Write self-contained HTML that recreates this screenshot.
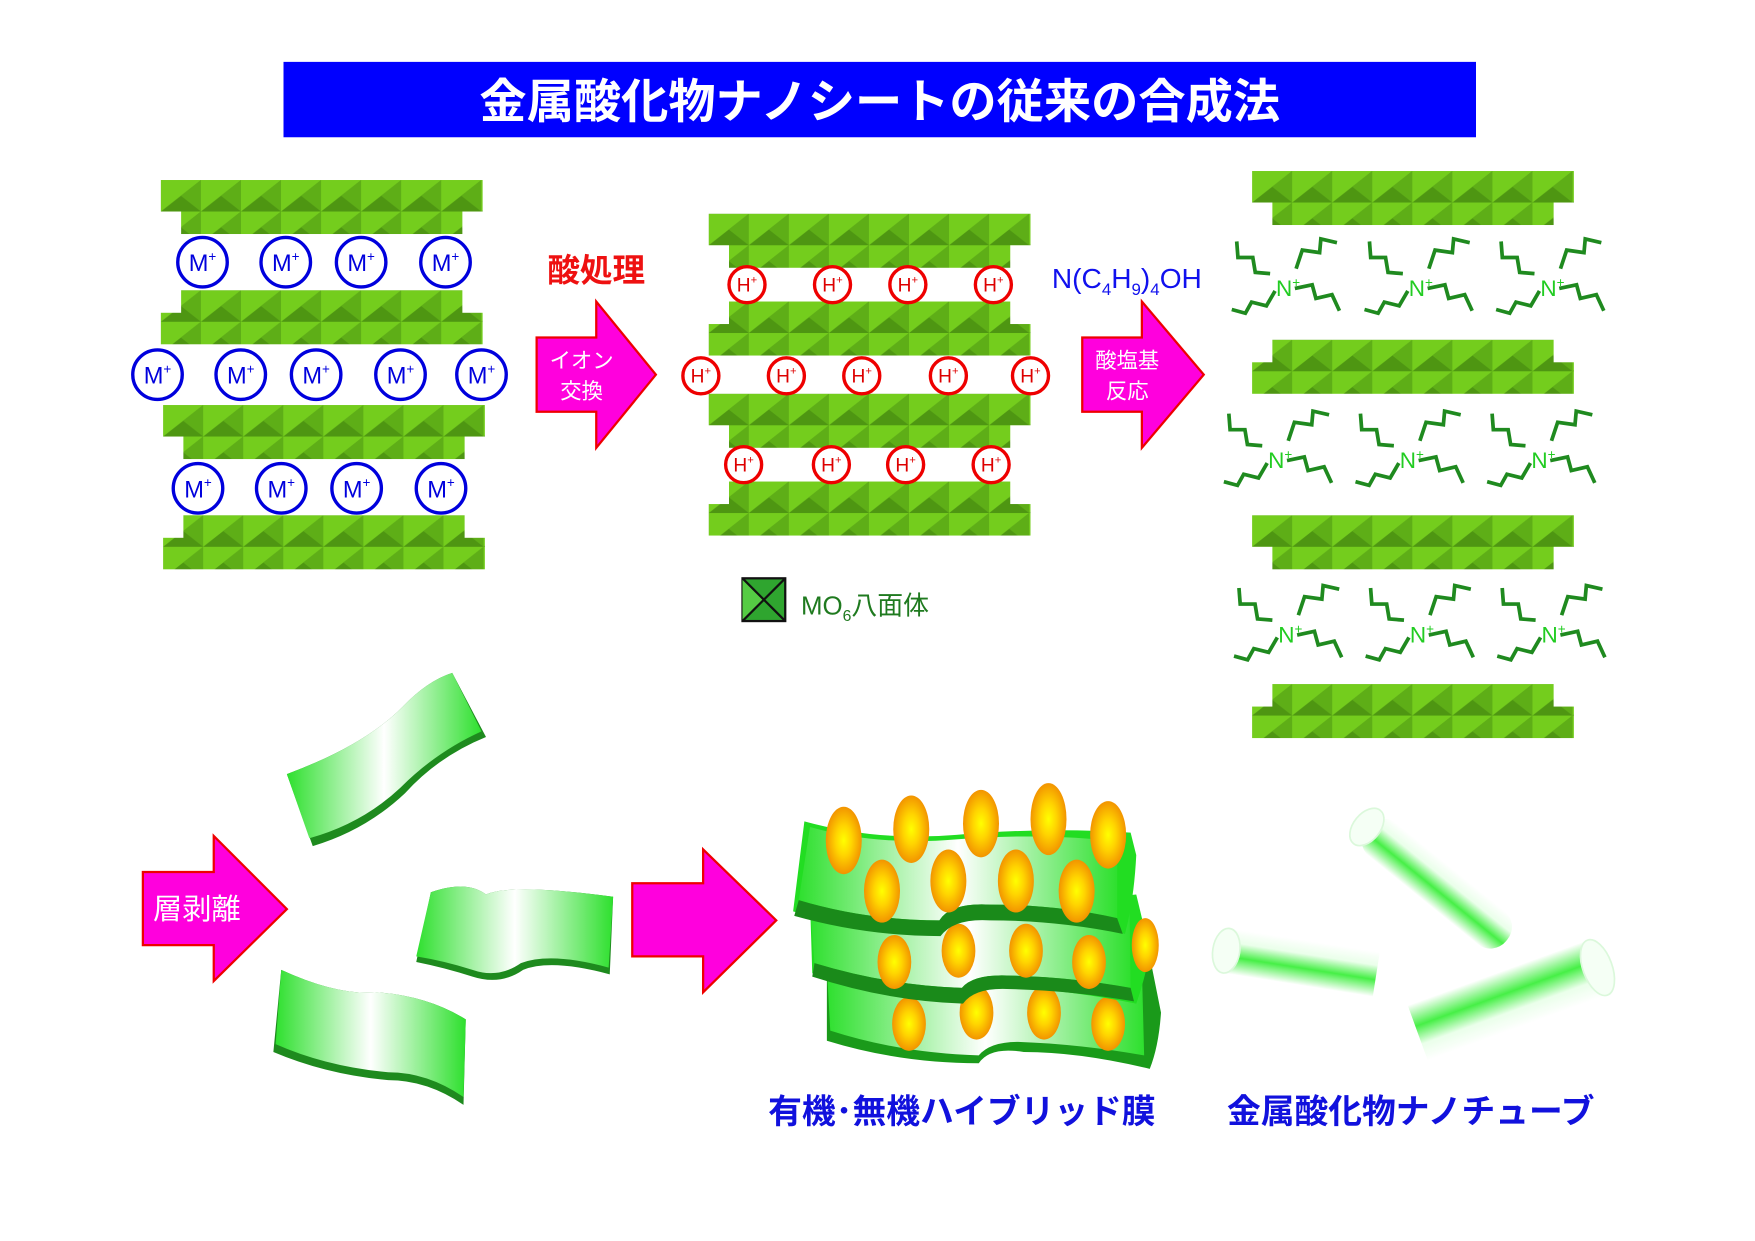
<!DOCTYPE html>
<html><head><meta charset="utf-8"><style>
html,body{margin:0;padding:0;background:#fff;}
svg{display:block;}
text{font-family:"Liberation Sans","Noto Sans CJK JP",sans-serif;}
</style></head><body>
<svg width="1755" height="1241" viewBox="0 0 1560 1103" preserveAspectRatio="none" xmlns="http://www.w3.org/2000/svg">
<defs>
<pattern id="tri" width="35.6" height="28" patternUnits="userSpaceOnUse">
<rect width="35.6" height="28" fill="#74cd1d"/>
<polygon points="0,28 35.6,0 35.6,28" fill="#4e9612"/>
<polygon points="17.8,14 35.6,0 35.6,28" fill="#5eae17"/>
</pattern>
<symbol id="LA" overflow="visible">
<rect x="0" y="0" width="286" height="28" fill="url(#tri)"/>
<rect x="18" y="20" width="250" height="28" fill="url(#tri)"/>
</symbol>
<symbol id="LB" overflow="visible">
<rect x="18" y="0" width="250" height="28" fill="url(#tri)"/>
<rect x="0" y="20" width="286" height="28" fill="url(#tri)"/>
</symbol>
<g id="amm" fill="none" stroke="#1f8a1f" stroke-width="3" transform="scale(1.1)">
<polyline points="-10,-8 -22,-9 -24,-21 -36,-21 -37,-34"/>
<polyline points="11,-12 16,-27 30,-25 31,-36 44,-33"/>
<polyline points="-6,6 -13,18 -25,15 -30,24 -41,21"/>
<polyline points="10,4 24,1 27,12 40,9 46,22"/>
</g>
<linearGradient id="sh" x1="0" x2="1" y1="0" y2="0">
<stop offset="0" stop-color="#2ee02e"/><stop offset="0.5" stop-color="#ffffff"/><stop offset="1" stop-color="#2ee02e"/>
</linearGradient>
<radialGradient id="org" cx="0.5" cy="0.5" r="0.5">
<stop offset="0" stop-color="#ffff00"/><stop offset="0.45" stop-color="#ffd400"/><stop offset="1" stop-color="#f29400"/>
</radialGradient>
<linearGradient id="tb" x1="0" x2="0" y1="0" y2="1">
<stop offset="0" stop-color="#ffffff"/><stop offset="0.3" stop-color="#e8ffe8"/><stop offset="0.62" stop-color="#33ee33"/><stop offset="1" stop-color="#ffffff"/>
</linearGradient>
</defs>

<rect x="252" y="55" width="1060" height="67" fill="#0000ff"/>
<text x="782" y="105" font-size="42" font-weight="bold" fill="#fff" text-anchor="middle">金属酸化物ナノシートの従来の合成法</text>

<use href="#LA" x="143" y="160"/>
<use href="#LB" x="143" y="258"/>
<use href="#LA" x="145" y="360"/>
<use href="#LB" x="145" y="458"/>
<g fill="#fff" stroke="#0000dd" stroke-width="3">
<circle cx="180" cy="233" r="22"/><circle cx="254" cy="233" r="22"/><circle cx="321" cy="233" r="22"/><circle cx="396" cy="233" r="22"/>
<circle cx="140" cy="333" r="22"/><circle cx="214" cy="333" r="22"/><circle cx="281" cy="333" r="22"/><circle cx="356" cy="333" r="22"/><circle cx="428" cy="333" r="22"/>
<circle cx="176" cy="434" r="22"/><circle cx="250" cy="434" r="22"/><circle cx="317" cy="434" r="22"/><circle cx="392" cy="434" r="22"/>
</g>
<g fill="#0000dd" font-size="21" text-anchor="middle">
<text x="180" y="241">M<tspan font-size="12" dy="-9">+</tspan></text><text x="254" y="241">M<tspan font-size="12" dy="-9">+</tspan></text><text x="321" y="241">M<tspan font-size="12" dy="-9">+</tspan></text><text x="396" y="241">M<tspan font-size="12" dy="-9">+</tspan></text>
<text x="140" y="341">M<tspan font-size="12" dy="-9">+</tspan></text><text x="214" y="341">M<tspan font-size="12" dy="-9">+</tspan></text><text x="281" y="341">M<tspan font-size="12" dy="-9">+</tspan></text><text x="356" y="341">M<tspan font-size="12" dy="-9">+</tspan></text><text x="428" y="341">M<tspan font-size="12" dy="-9">+</tspan></text>
<text x="176" y="442">M<tspan font-size="12" dy="-9">+</tspan></text><text x="250" y="442">M<tspan font-size="12" dy="-9">+</tspan></text><text x="317" y="442">M<tspan font-size="12" dy="-9">+</tspan></text><text x="392" y="442">M<tspan font-size="12" dy="-9">+</tspan></text>
</g>

<text x="530" y="250" font-size="29" fill="#ee1111" text-anchor="middle" font-weight="bold">酸処理</text>
<polygon points="477,300 530,300 530,268 583,333 530,398 530,366 477,366" fill="#ff00dd" stroke="#ee0000" stroke-width="2"/>
<text x="517" y="327" font-size="19" fill="#fff" text-anchor="middle">イオン</text>
<text x="517" y="354" font-size="19" fill="#fff" text-anchor="middle">交換</text>

<use href="#LA" x="630" y="190"/>
<use href="#LB" x="630" y="268"/>
<use href="#LA" x="630" y="350"/>
<use href="#LB" x="630" y="428"/>
<g fill="#fff" stroke="#ee0000" stroke-width="3">
<circle cx="664" cy="253" r="16"/><circle cx="740" cy="253" r="16"/><circle cx="807" cy="253" r="16"/><circle cx="883" cy="253" r="16"/>
<circle cx="623" cy="334" r="16"/><circle cx="699" cy="334" r="16"/><circle cx="766" cy="334" r="16"/><circle cx="843" cy="334" r="16"/><circle cx="916" cy="334" r="16"/>
<circle cx="661" cy="413" r="16"/><circle cx="739" cy="413" r="16"/><circle cx="805" cy="413" r="16"/><circle cx="881" cy="413" r="16"/>
</g>
<g fill="#dd0000" font-size="17" text-anchor="middle">
<text x="664" y="259">H<tspan font-size="10" dy="-7">+</tspan></text><text x="740" y="259">H<tspan font-size="10" dy="-7">+</tspan></text><text x="807" y="259">H<tspan font-size="10" dy="-7">+</tspan></text><text x="883" y="259">H<tspan font-size="10" dy="-7">+</tspan></text>
<text x="623" y="340">H<tspan font-size="10" dy="-7">+</tspan></text><text x="699" y="340">H<tspan font-size="10" dy="-7">+</tspan></text><text x="766" y="340">H<tspan font-size="10" dy="-7">+</tspan></text><text x="843" y="340">H<tspan font-size="10" dy="-7">+</tspan></text><text x="916" y="340">H<tspan font-size="10" dy="-7">+</tspan></text>
<text x="661" y="419">H<tspan font-size="10" dy="-7">+</tspan></text><text x="739" y="419">H<tspan font-size="10" dy="-7">+</tspan></text><text x="805" y="419">H<tspan font-size="10" dy="-7">+</tspan></text><text x="881" y="419">H<tspan font-size="10" dy="-7">+</tspan></text>
</g>

<rect x="660" y="514" width="38" height="38" fill="#2fa52f" stroke="#111" stroke-width="2"/>
<polygon points="660,514 679,533 660,552" fill="#55cc44"/>
<line x1="660" y1="514" x2="698" y2="552" stroke="#111" stroke-width="2"/>
<line x1="698" y1="514" x2="660" y2="552" stroke="#111" stroke-width="2"/>
<text x="712" y="546" font-size="23" fill="#1f7a1f">MO<tspan font-size="14" dy="6">6</tspan><tspan dy="-6">八面体</tspan></text>

<text x="935" y="256" font-size="25" fill="#1111ee">N(C<tspan font-size="15" dy="6">4</tspan><tspan dy="-6">H</tspan><tspan font-size="15" dy="6">9</tspan><tspan dy="-6">)</tspan><tspan font-size="15" dy="6">4</tspan><tspan dy="-6">OH</tspan></text>
<polygon points="962,300 1015,300 1015,268 1070,333 1015,398 1015,366 962,366" fill="#ff00dd" stroke="#ee0000" stroke-width="2"/>
<text x="1002" y="327" font-size="19" fill="#fff" text-anchor="middle">酸塩基</text>
<text x="1002" y="354" font-size="19" fill="#fff" text-anchor="middle">反応</text>

<use href="#LA" x="1113" y="152"/>
<use href="#LB" x="1113" y="302"/>
<use href="#LA" x="1113" y="458"/>
<use href="#LB" x="1113" y="608"/>
<use href="#amm" x="1140" y="252"/><use href="#amm" x="1258" y="252"/><use href="#amm" x="1375" y="252"/>
<use href="#amm" x="1133" y="405"/><use href="#amm" x="1250" y="405"/><use href="#amm" x="1367" y="405"/>
<use href="#amm" x="1142" y="560"/><use href="#amm" x="1259" y="560"/><use href="#amm" x="1376" y="560"/>
<g fill="#22cc22" font-size="20" text-anchor="middle">
<text x="1145" y="263">N<tspan font-size="12" dy="-8">+</tspan></text><text x="1263" y="263">N<tspan font-size="12" dy="-8">+</tspan></text><text x="1380" y="263">N<tspan font-size="12" dy="-8">+</tspan></text>
<text x="1138" y="416">N<tspan font-size="12" dy="-8">+</tspan></text><text x="1255" y="416">N<tspan font-size="12" dy="-8">+</tspan></text><text x="1372" y="416">N<tspan font-size="12" dy="-8">+</tspan></text>
<text x="1147" y="571">N<tspan font-size="12" dy="-8">+</tspan></text><text x="1264" y="571">N<tspan font-size="12" dy="-8">+</tspan></text><text x="1381" y="571">N<tspan font-size="12" dy="-8">+</tspan></text>
</g>

<polygon points="127,775 190,775 190,743 255,808 190,872 190,840 127,840" fill="#ff00dd" stroke="#ee0000" stroke-width="2"/>
<text x="175" y="817" font-size="26" fill="#fff" text-anchor="middle">層剥離</text>

<path d="M255,688 Q325,662 358,628 Q380,605 402,598 L432,655 Q390,672 360,705 Q325,738 278,752 Z" fill="#1e8a1e"/>
<path d="M255,688 Q325,662 358,628 Q380,605 402,598 L428,650 Q388,668 356,700 Q322,732 275,745 Z" fill="url(#sh)"/>
<path d="M383,793 Q415,782 432,795 Q455,785 545,797 L542,866 Q490,852 465,862 Q445,876 420,868 Q395,860 370,855 Z" fill="#1e8a1e"/>
<path d="M383,793 Q415,782 432,795 Q455,785 545,797 L541,860 Q490,846 463,856 Q443,870 420,862 Q395,854 370,850 Z" fill="url(#sh)"/>
<path d="M250,862 Q300,885 335,882 Q380,885 414,906 L412,982 Q380,960 345,960 Q290,955 243,935 Z" fill="#1e8a1e"/>
<path d="M250,862 Q300,885 335,882 Q380,885 414,906 L412,975 Q380,953 345,953 Q290,948 245,928 Z" fill="url(#sh)"/>

<polygon points="562,785 625,785 625,755 690,818 625,882 625,850 562,850" fill="#ff00dd" stroke="#ee0000" stroke-width="2"/>

<g>
<path d="M735,855 Q800,870 860,865 Q950,858 1022,850 L1032,900 Q1030,930 1022,950 Q960,935 910,935 Q880,930 870,945 Q800,945 735,925 Z" fill="#1a9a1a"/>
<path d="M735,860 Q800,875 860,870 Q950,862 1015,860 L1017,938 Q960,928 905,926 Q880,926 870,938 Q800,936 738,916 Z" fill="url(#sh)"/>
<g fill="url(#org)"><ellipse cx="808" cy="910" rx="15" ry="24"/><ellipse cx="868" cy="900" rx="15" ry="24"/><ellipse cx="928" cy="900" rx="15" ry="24"/><ellipse cx="985" cy="910" rx="15" ry="24"/></g>
<path d="M720,800 Q790,815 850,810 Q940,802 1010,795 L1022,845 Q1018,870 1010,892 Q950,880 900,878 Q865,872 855,888 Q790,888 722,865 Z" fill="#22dd22"/>
<path d="M720,805 Q790,820 850,815 Q940,807 1004,805 L1005,878 Q950,868 895,867 Q865,866 855,878 Q790,876 724,856 Z" fill="url(#sh)"/>
<path d="M724,856 Q790,876 855,878 Q865,866 895,867 Q950,868 1005,878 L1008,890 Q950,880 895,879 Q866,878 856,892 Q790,890 722,868 Z" fill="#1a8a1a"/>
<g fill="url(#org)"><ellipse cx="795" cy="855" rx="15" ry="24"/><ellipse cx="852" cy="845" rx="15" ry="24"/><ellipse cx="912" cy="845" rx="15" ry="24"/><ellipse cx="968" cy="855" rx="15" ry="24"/><ellipse cx="1018" cy="840" rx="12" ry="24"/></g>
<path d="M715,730 Q780,748 850,742 Q930,735 1005,740 L1010,760 Q1008,800 1000,830 Q940,815 880,815 Q845,812 835,828 Q770,830 705,810 Z" fill="#22dd22"/>
<path d="M720,735 Q780,752 850,746 Q930,740 993,748 L993,816 Q940,804 880,804 Q845,802 835,818 Q770,818 710,800 Z" fill="url(#sh)"/>
<path d="M710,800 Q770,818 835,818 Q845,802 880,804 Q940,804 993,816 L998,830 Q940,818 880,818 Q848,816 836,832 Q770,832 706,814 Z" fill="#1a8a1a"/>
<g fill="url(#org)"><ellipse cx="750" cy="747" rx="16" ry="30"/><ellipse cx="810" cy="737" rx="16" ry="30"/><ellipse cx="872" cy="732" rx="16" ry="30"/><ellipse cx="932" cy="728" rx="16" ry="32"/><ellipse cx="985" cy="742" rx="16" ry="30"/>
<ellipse cx="784" cy="792" rx="16" ry="28"/><ellipse cx="843" cy="783" rx="16" ry="28"/><ellipse cx="903" cy="783" rx="16" ry="28"/><ellipse cx="957" cy="792" rx="16" ry="28"/></g>
</g>

<g opacity="0.9">
<g transform="translate(1215,735) rotate(39)">
<rect x="0" y="-19" width="160" height="38" rx="18" fill="url(#tb)"/>
<ellipse cx="0" cy="0" rx="12" ry="19" fill="#f4fff4" stroke="#d8f8d8" stroke-width="1.5"/>
</g>
<g transform="translate(1090,845) rotate(9)">
<rect x="0" y="-20" width="135" height="40" fill="url(#tb)"/>
<ellipse cx="0" cy="0" rx="12" ry="20" fill="#f4fff4" stroke="#d8f8d8" stroke-width="1.5"/>
</g>
<g transform="translate(1420,860) rotate(160)">
<rect x="0" y="-26" width="170" height="52" fill="url(#tb)"/>
<ellipse cx="0" cy="0" rx="13" ry="26" fill="#f4fff4" stroke="#d8f8d8" stroke-width="1.5"/>
</g>
</g>

<text x="855" y="998" font-size="30" font-weight="bold" fill="#1111dd" text-anchor="middle">有機･無機ハイブリッド膜</text>
<text x="1254" y="998" font-size="30" font-weight="bold" fill="#1111dd" text-anchor="middle">金属酸化物ナノチューブ</text>
</svg>
</body></html>
